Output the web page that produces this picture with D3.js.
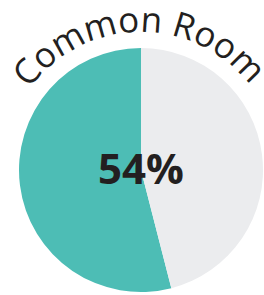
<!DOCTYPE html>
<html>
<head>
<meta charset="utf-8">
<script src="https://cdn.jsdelivr.net/npm/d3@7"></script>
<style>
  body { margin: 0; background: #fff; }
  svg { display: block; }
</style>
</head>
<body>
<svg class="pie-chart" width="264" height="295"></svg>
<script>
// Data
const title = 'Common Room';
const labels = ['Common Room', 'Other'];
const values = [54, 46];
const colors = ['#4dbdb5', '#ebecee'];

const svg = d3.select('.pie-chart');

// Layout
const cx = 141, cy = 170;
const radius = 122;
const titleRadius = 138;

const g = svg.append('g')
    .attr('transform', `translate(${cx}, ${cy})`);

// Pie runs counter-clockwise from 12 o'clock
const pie = d3.pie()
    .sort(null)
    .startAngle(0)
    .endAngle(-2 * Math.PI)
    .value(d => d);

const arc = d3.arc()
    .innerRadius(0)
    .outerRadius(radius);

g.selectAll('path.slice')
    .data(pie(values))
    .join('path')
    .attr('class', 'slice')
    .attr('fill', (d, i) => colors[i])
    .attr('d', arc);

// Big percentage in the middle
const total = d3.sum(values);
g.append('text')
    .attr('x', 0)
    .attr('y', 14)
    .attr('text-anchor', 'middle')
    .attr('font-family', '"Open Sans", sans-serif')
    .attr('font-weight', 700)
    .attr('font-size', 42)
    .attr('fill', '#231f20')
    .text(d3.format('.0%')(values[0] / total));

// Curved title along an arc above the pie
const p = d3.path();
p.arc(0, 0, titleRadius, -Math.PI, 0);
svg.append('defs').append('path')
    .attr('id', 'title-arc')
    .attr('transform', `translate(${cx}, ${cy})`)
    .attr('d', p.toString());

svg.append('text')
    .attr('font-family', '"Open Sans", sans-serif')
    .attr('font-size', 35)
    .attr('letter-spacing', 0)
    .attr('fill', '#231f20')
    .append('textPath')
    .attr('href', '#title-arc')
    .attr('startOffset', '49.5%')
    .attr('text-anchor', 'middle')
    .text(title);
</script>
</body>
</html>
